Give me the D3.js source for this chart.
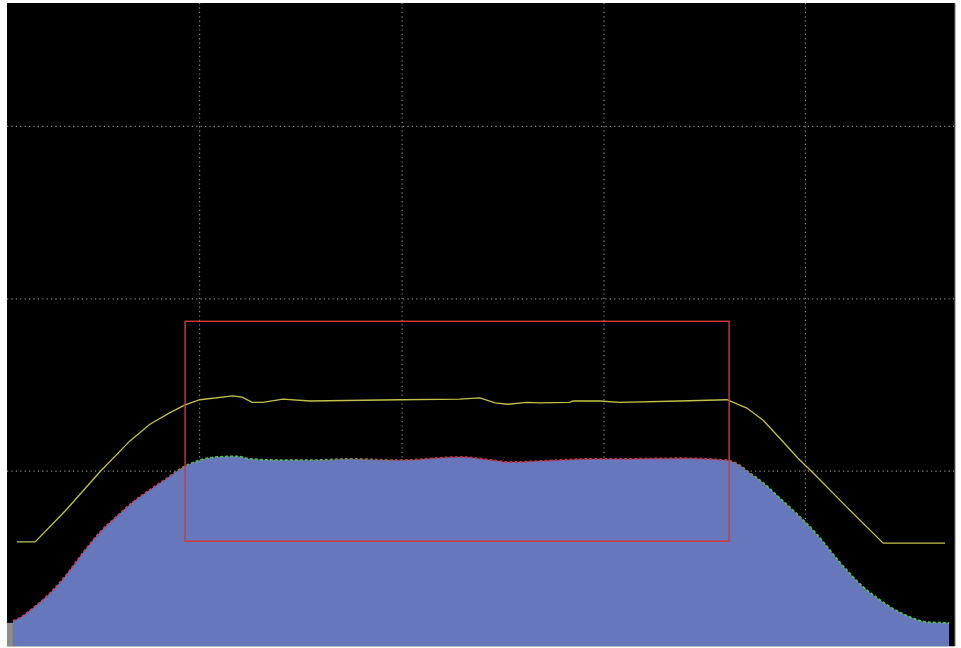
<!DOCTYPE html>
<html>
<head>
<meta charset="utf-8">
<script src="https://cdn.jsdelivr.net/npm/d3@7/dist/d3.min.js"></script>
<style>
  html, body { margin: 0; padding: 0; background: #ffffff; }
  svg { display: block; }
</style>
</head>
<body>
<svg id="chart" width="961" height="648"></svg>
<script>
// ---- data (tonal levels 0..256, values in % of plot height) ----
const histLevels = [1.6, 3.5, 7.0, 11.6, 16.2, 20.5, 25.1, 29.7, 34.0, 38.6, 43.2, 47.5, 52.1, 56.7, 62.1, 65.6, 74.5, 81.8, 92.6, 106.1, 122.3, 131.2, 135.8, 144.7, 158.2, 165.5, 181.7, 194.4, 197.9, 200.6, 203.3, 208.7, 217.7, 226.3, 230.4, 234.9, 239.3, 243.9, 248.4, 254.4];
const histValues = [3.9, 4.4, 5.9, 8.2, 11.2, 14.5, 17.7, 20.2, 22.4, 24.3, 26.1, 27.8, 28.9, 29.4, 29.5, 29.1, 28.9, 28.9, 29.1, 28.9, 29.4, 28.9, 28.6, 28.8, 29.1, 29.1, 29.2, 28.9, 28.1, 26.9, 25.8, 23.0, 18.0, 12.1, 9.6, 7.5, 5.8, 4.5, 3.7, 3.6];

const curveLevels = [2.7, 7.6, 16.2, 25.1, 33.2, 38.6, 44.0, 48.1, 52.1, 61.0, 63.5, 66.2, 69.1, 74.5, 81.8, 106.1, 122.3, 127.7, 131.8, 135.3, 140.4, 143.9, 152.0, 152.8, 160.1, 165.5, 181.7, 194.4, 199.8, 204.2, 208.7, 213.6, 217.7, 226.8, 236.6, 253.3];
const curveValues = [16.2, 16.2, 21.3, 27.1, 31.9, 34.5, 36.3, 37.5, 38.3, 38.9, 38.7, 37.9, 37.9, 38.4, 38.1, 38.3, 38.4, 38.6, 37.8, 37.6, 37.9, 37.8, 37.9, 38.1, 38.1, 37.9, 38.1, 38.3, 37.0, 35.1, 32.3, 29.2, 26.9, 21.6, 16.0, 16.0];

const clipLevels = [0, 1.6];      // grey clipped-shadow column
const clipValue = 3.6;

const selectionLevels = [48.1, 195.0];
const selectionValues = [16.3, 50.5];

const gridLevels = [52.0, 106.7, 161.2, 215.6];
const gridValues = [27.2, 54.0, 80.8];

// ---- layout ----
const svg = d3.select("#chart");
const plot = { left: 7, top: 3, right: 955, bottom: 646 };

const x = d3.scaleLinear().domain([0, 256]).range([plot.left, plot.right]);
const y = d3.scaleLinear().domain([0, 100]).range([plot.bottom, plot.top]);

svg.append("rect")
  .attr("x", plot.left).attr("y", plot.top)
  .attr("width", plot.right - plot.left).attr("height", plot.bottom - plot.top)
  .attr("fill", "#000000");

// grid
const g = svg.append("g");
g.selectAll("line.vg").data(gridLevels).join("line")
  .attr("x1", d => x(d)).attr("x2", d => x(d))
  .attr("y1", plot.top).attr("y2", plot.bottom)
  .attr("stroke", "#8a8a8a").attr("stroke-width", 1.2)
  .attr("stroke-dasharray", "1.2,3.2");
g.selectAll("line.hg").data(gridValues).join("line")
  .attr("x1", plot.left).attr("x2", plot.right)
  .attr("y1", d => y(d)).attr("y2", d => y(d))
  .attr("stroke", "#8a8a8a").attr("stroke-width", 1.2)
  .attr("stroke-dasharray", "1.2,3.2");

// histogram
const hist = histLevels.map((l, i) => [l, histValues[i]]);
const area = d3.area()
  .x(d => x(d[0])).y0(y(0)).y1(d => y(d[1]))
  .curve(d3.curveMonotoneX);
svg.append("path").datum(hist)
  .attr("d", area)
  .attr("fill", "#6677bb");

// coloured channel edge along the top of the histogram
const defs = svg.append("defs");
const grad = defs.append("linearGradient").attr("id", "edge")
  .attr("gradientUnits", "userSpaceOnUse")
  .attr("x1", plot.left).attr("x2", plot.right).attr("y1", 0).attr("y2", 0);
[[0, "#c04060"], [0.17, "#c04060"], [0.2, "#55bb55"], [0.3, "#55bb55"], [0.45, "#cc3344"], [0.75, "#cc3344"], [0.8, "#55bb55"], [1, "#55bb55"]]
  .forEach(s => grad.append("stop").attr("offset", s[0]).attr("stop-color", s[1]));
const edge = d3.line().x(d => x(d[0])).y(d => y(d[1])).curve(d3.curveMonotoneX);
svg.append("path").datum(hist)
  .attr("d", edge)
  .attr("fill", "none")
  .attr("stroke", "url(#edge)")
  .attr("stroke-width", 1.8)
  .attr("stroke-dasharray", "3,2");

// clipped column
svg.append("rect")
  .attr("x", x(clipLevels[0])).attr("width", x(clipLevels[1]) - x(clipLevels[0]))
  .attr("y", y(clipValue)).attr("height", y(0) - y(clipValue))
  .attr("fill", "#8c8c8c");

// yellow curve
const curve = curveLevels.map((l, i) => [l, curveValues[i]]);
svg.append("path").datum(curve)
  .attr("d", d3.line().x(d => x(d[0])).y(d => y(d[1])).curve(d3.curveLinear))
  .attr("fill", "none")
  .attr("stroke", "#c2c24a")
  .attr("stroke-width", 1.3);

// selection rectangle
svg.append("rect")
  .attr("x", x(selectionLevels[0])).attr("y", y(selectionValues[1]))
  .attr("width", x(selectionLevels[1]) - x(selectionLevels[0]))
  .attr("height", y(selectionValues[0]) - y(selectionValues[1]))
  .attr("fill", "none")
  .attr("stroke", "#d23a3a")
  .attr("stroke-width", 1.4);

// right border
svg.append("line")
  .attr("x1", plot.right).attr("x2", plot.right)
  .attr("y1", plot.top).attr("y2", plot.bottom)
  .attr("stroke", "#777").attr("stroke-width", 1);
svg.append("line")
  .attr("x1", plot.left).attr("x2", plot.right)
  .attr("y1", plot.bottom + 0.5).attr("y2", plot.bottom + 0.5)
  .attr("stroke", "#bbbbbb").attr("stroke-width", 1);
</script>
</body>
</html>
